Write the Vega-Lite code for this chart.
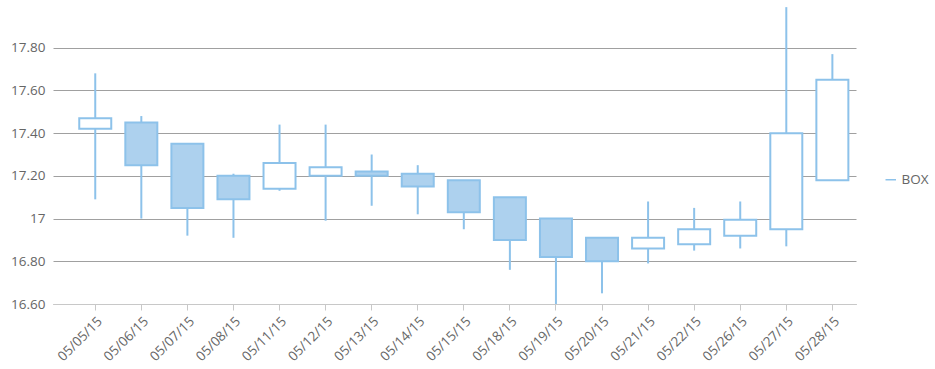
{
  "$schema": "https://vega.github.io/schema/vega-lite/v6.json",
  "width": 803,
  "height": 299,
  "autosize": "none",
  "padding": {"left": 53, "top": 5, "right": 79, "bottom": 65},
  "background": "white",
  "config": {
    "font": "Open Sans",
    "view": {"stroke": null},
    "axis": {"labelFont": "Open Sans", "labelColor": "#666666", "labelFontSize": 13.5}
  },
  "data": {
    "values": [
      {"date": "05/05/15", "open": 17.42, "close": 17.47, "high": 17.68, "low": 17.09, "series": "BOX"},
      {"date": "05/06/15", "open": 17.45, "close": 17.25, "high": 17.48, "low": 17.00, "series": "BOX"},
      {"date": "05/07/15", "open": 17.35, "close": 17.05, "high": 17.35, "low": 16.92, "series": "BOX"},
      {"date": "05/08/15", "open": 17.20, "close": 17.09, "high": 17.21, "low": 16.91, "series": "BOX"},
      {"date": "05/11/15", "open": 17.14, "close": 17.26, "high": 17.44, "low": 17.13, "series": "BOX"},
      {"date": "05/12/15", "open": 17.20, "close": 17.24, "high": 17.44, "low": 16.99, "series": "BOX"},
      {"date": "05/13/15", "open": 17.22, "close": 17.20, "high": 17.30, "low": 17.06, "series": "BOX"},
      {"date": "05/14/15", "open": 17.21, "close": 17.15, "high": 17.25, "low": 17.02, "series": "BOX"},
      {"date": "05/15/15", "open": 17.18, "close": 17.03, "high": 17.18, "low": 16.95, "series": "BOX"},
      {"date": "05/18/15", "open": 17.10, "close": 16.90, "high": 17.10, "low": 16.76, "series": "BOX"},
      {"date": "05/19/15", "open": 17.00, "close": 16.82, "high": 17.00, "low": 16.60, "series": "BOX"},
      {"date": "05/20/15", "open": 16.91, "close": 16.80, "high": 16.91, "low": 16.65, "series": "BOX"},
      {"date": "05/21/15", "open": 16.86, "close": 16.91, "high": 17.08, "low": 16.79, "series": "BOX"},
      {"date": "05/22/15", "open": 16.88, "close": 16.95, "high": 17.05, "low": 16.85, "series": "BOX"},
      {"date": "05/26/15", "open": 16.92, "close": 16.995, "high": 17.08, "low": 16.86, "series": "BOX"},
      {"date": "05/27/15", "open": 16.95, "close": 17.40, "high": 17.99, "low": 16.87, "series": "BOX"},
      {"date": "05/28/15", "open": 17.18, "close": 17.65, "high": 17.77, "low": 17.18, "series": "BOX"}
    ]
  },
  "encoding": {
    "x": {
      "field": "date",
      "type": "ordinal",
      "sort": null,
      "title": null,
      "scale": {"paddingInner": 0, "paddingOuter": 0.215, "align": 0.97},
      "axis": {
        "labelAngle": -45,
        "labelAlign": "right",
        "labelBaseline": "top",
        "domain": true,
        "domainColor": "#c8c8c8",
        "tickColor": "#c8c8c8",
        "tickSize": 6,
        "labelPadding": 4,
        "grid": false
      }
    }
  },
  "layer": [
    {
      "mark": {"type": "rule", "strokeWidth": 2},
      "encoding": {
        "y": {
          "field": "low",
          "type": "quantitative",
          "title": null,
          "scale": {"domain": [16.6, 18.0], "nice": false, "zero": false},
          "axis": {
            "values": [16.6, 16.8, 17.0, 17.2, 17.4, 17.6, 17.8],
            "labelExpr": "datum.value == 17 ? '17' : format(datum.value, '.2f')",
            "domain": false,
            "ticks": false,
            "grid": true,
            "gridColor": "#a0a0a0",
            "gridWidth": 1,
            "labelPadding": 8
          }
        },
        "y2": {"field": "high"},
        "color": {
          "field": "series",
          "type": "nominal",
          "scale": {"range": ["#8dc2ea"]},
          "legend": {
            "title": null,
            "orient": "none",
            "legendX": 831,
            "legendY": 168,
            "symbolType": "stroke",
            "symbolSize": 110,
            "symbolStrokeWidth": 1.5,
            "labelFontSize": 13.5,
            "labelColor": "#666666",
            "labelFont": "Open Sans",
            "labelOffset": 4
          }
        }
      }
    },
    {
      "mark": {"type": "bar", "size": 32, "stroke": "#8dc2ea", "strokeWidth": 2},
      "encoding": {
        "y": {"field": "open", "type": "quantitative"},
        "y2": {"field": "close"},
        "fill": {
          "condition": {"test": "datum.close < datum.open", "value": "#add1ee"},
          "value": "#ffffff"
        }
      }
    }
  ]
}
